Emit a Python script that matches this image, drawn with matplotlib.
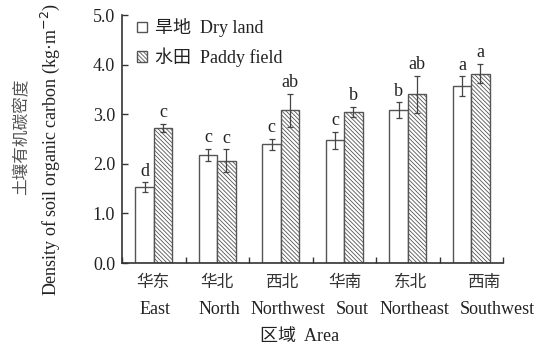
import matplotlib
matplotlib.use("Agg")
import matplotlib.pyplot as plt
import matplotlib.transforms as mtransforms
import numpy as np

# data
areas_cn = ["华东", "华北", "西北", "华南", "东北", "西南"]
areas_en = ["East", "North", "Northwest", "Sout", "Northeast", "Southwest"]
dry = [1.53, 2.18, 2.39, 2.47, 3.08, 3.57]
dry_err = [0.10, 0.12, 0.12, 0.18, 0.16, 0.20]
paddy = [2.73, 2.06, 3.08, 3.05, 3.40, 3.82]
paddy_err = [0.08, 0.23, 0.33, 0.10, 0.38, 0.20]
dry_sig = ["d", "c", "c", "c", "b", "a"]
paddy_sig = ["c", "c", "ab", "b", "ab", "a"]

# category labels in the original are spread out, not centred on the groups
cn_shift = [-0.01, 0.0, 0.02, 0.01, 0.04, 0.19]
en_shift = [0.02, 0.03, 0.11, 0.12, 0.11, 0.41]

FAM = ["Liberation Serif", "Noto Sans CJK SC", "DejaVu Sans"]
plt.rcParams['font.family'] = FAM
plt.rcParams['hatch.linewidth'] = 0.6
plt.rcParams['hatch.color'] = '#555555'
TXT = '#222222'

fig = plt.figure(figsize=(5.37, 3.51), dpi=100)
ax = fig.add_axes([122/537, 1-263/351, (503-122)/537, (263-15)/351])

x = np.arange(len(dry))
w = 0.29
ekw = dict(ecolor='#444444', elinewidth=0.9, capsize=2.5, capthick=0.9)
ax.bar(x - w/2, dry, w, yerr=dry_err, color='white', edgecolor='#555555',
       linewidth=1.0, error_kw=ekw, label="旱地  Dry land")
ax.bar(x + w/2, paddy, w, yerr=paddy_err, color='white', edgecolor='#555555',
       linewidth=1.0, hatch='\\\\\\\\\\\\\\\\', error_kw=ekw, label="水田  Paddy field")

for i in range(len(x)):
    ax.text(x[i] - w/2, dry[i] + dry_err[i] + 0.05, dry_sig[i], ha='center',
            va='bottom', fontsize=13, color=TXT)
    ax.text(x[i] + w/2, paddy[i] + paddy_err[i] + 0.05, paddy_sig[i], ha='center',
            va='bottom', fontsize=13, color=TXT)

ax.set_xlim(-0.5, len(x) - 0.5)
ax.set_ylim(0, 5.0)
ax.set_yticks(np.arange(0, 5.01, 1.0))
ax.set_yticklabels([f"{v:.1f}" for v in np.arange(0, 5.01, 1.0)], fontsize=13, color=TXT)
ax.tick_params(axis='y', direction='in', length=4, width=1, colors='#333333', pad=5)
ax.tick_params(axis='y', labelcolor=TXT)
ax.set_xticks(np.arange(-0.5, len(x)), minor=True)
ax.set_xticks([])
ax.tick_params(axis='x', which='minor', direction='in', length=4, width=1, colors='#333333')
for s in ['top', 'right']:
    ax.spines[s].set_visible(False)
for s in ['left', 'bottom']:
    ax.spines[s].set_linewidth(1.2)
    ax.spines[s].set_color('#333333')

trans = mtransforms.blended_transform_factory(ax.transData, ax.transAxes)
for i in range(len(x)):
    ax.text(x[i] + cn_shift[i], -20/248, areas_cn[i], transform=trans, ha='center',
            va='center', fontsize=12, color='#333333')
    ax.text(x[i] + en_shift[i], -46/248, areas_en[i], transform=trans, ha='center',
            va='center', fontsize=13, color=TXT)

fig.text(300/537, 1-337/351, "区域  Area", ha='center', va='center', fontsize=13, color=TXT)

fig.text(22/537, 1-137/351, "土壤有机碳密度", rotation=90, ha='center', va='center',
         fontsize=12, color='#555555')
fig.text(50/537, 1-150/351, "Density of soil organic carbon (kg·m$^{-2}$)", rotation=90,
         ha='center', va='center', fontsize=13, color=TXT)

leg = ax.legend(loc='upper left', bbox_to_anchor=(0.01, 1.03), frameon=False,
                fontsize=13, handlelength=0.55, handleheight=0.55, handletextpad=0.45,
                labelspacing=0.55, borderaxespad=0.2)
for t in leg.get_texts():
    t.set_color(TXT)

fig.savefig("out.png", dpi=100)
